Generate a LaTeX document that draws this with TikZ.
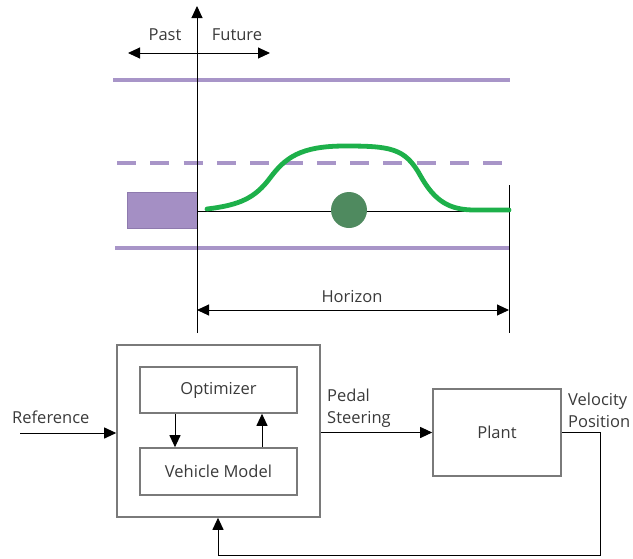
\documentclass[tikz,border=0pt]{standalone}
\usepackage{fontspec}
\setmainfont{Open Sans}
\usetikzlibrary{arrows.meta,calc}
\definecolor{lane}{HTML}{A895C8}
\definecolor{lanefill}{HTML}{A48FC4}
\definecolor{lanedge}{HTML}{8E7AAE}
\definecolor{pathgreen}{HTML}{1DB04A}
\definecolor{obstacle}{HTML}{4F8A5F}
\definecolor{boxgrey}{HTML}{7A7A7A}
\definecolor{txt}{HTML}{3A3A3A}
\begin{document}
\begin{tikzpicture}[x=1pt,y=-1pt,
  lbl/.style={text=txt,font=\fontsize{16.5}{22}\selectfont,inner sep=0pt},
  block/.style={draw=boxgrey,line width=1.6pt,fill=white,inner sep=0pt,text=txt,
                font=\fontsize{16.5}{22}\selectfont},
  conn/.style={line width=1pt,black},
  arr/.style={conn,-{Triangle[length=12pt,width=11pt]}},
  darr/.style={conn,{Triangle[length=12pt,width=11pt]}-{Triangle[length=12pt,width=11pt]}},
  laneline/.style={lane,line width=3.5pt},
]
\useasboundingbox (0,0) rectangle (633,558);

% ---------- prediction horizon sketch ----------
\coordinate (axtop) at (197,6);
\coordinate (axbot) at (197,333);
\coordinate (pastend) at (128,53);
\coordinate (futend) at (270,53);
\coordinate (horR) at (509,185);
\coordinate (horRbot) at (509,333);
\coordinate (horA) at (197,310);
\coordinate (horB) at (509,310);

% lane borders
\draw[laneline] (113,80) -- (510,80);
\draw[laneline] (115,248) -- (510,248);
\draw[laneline,dash pattern=on 19pt off 14.3pt] (117,163) -- (510,163);

% ego vehicle
\node[draw=lanedge,fill=lanefill,line width=0.6pt,minimum width=70pt,minimum height=36pt,
      inner sep=0pt] (ego) at (162,210) {};

% time axes
\draw[arr] (axbot) -- (axtop);
\draw[darr] (pastend) -- (futend);
\node[lbl] (past) at (165,35) {Past};
\node[lbl] (future) at (237,35) {Future};

% reference line and horizon end
\draw[conn] (197,211) -- (509,211);
\draw[conn] (horR) -- (horRbot);

% obstacle
\node[circle,fill=obstacle,minimum size=36pt,inner sep=0pt] (obs) at (349,210) {};

% planned trajectory
\draw[pathgreen,line width=4.8pt,line cap=round]
  (207,209) .. controls (240,205) and (255,198) .. (270,178)
            .. controls (285,158) and (300,146) .. (345,146)
            .. controls (390,146) and (405,148) .. (420,175)
            .. controls (435,202) and (450,210) .. (475,210)
            -- (509,210);

% horizon span
\draw[darr] (horA) -- (horB);
\node[lbl] (horizon) at (352,297) {Horizon};

% ---------- MPC loop block diagram ----------
\node[block,minimum width=203pt,minimum height=172pt] (ctrl) at (218.5,431) {};
\node[block,minimum width=157pt,minimum height=46pt] (opt) at (218.5,390) {Optimizer};
\node[block,minimum width=157pt,minimum height=47pt] (veh) at (218.5,471.5) {Vehicle Model};
\node[block,minimum width=128pt,minimum height=87pt] (plant) at (497,432.5) {Plant};

\coordinate (downx) at (175,0);
\coordinate (upx) at (262,0);
\draw[arr] (opt.south -| downx) -- (veh.north -| downx);
\draw[arr] (veh.north -| upx) -- (opt.south -| upx);

\coordinate (refin) at (20,433);
\draw[arr] (refin) -- (ctrl.west |- refin);
\node[lbl,anchor=south west] (reflbl) at (12,424) {Reference};

\draw[arr] (ctrl.east |- plant.west) -- (plant.west);
\node[lbl,anchor=west,align=left] (uLbl) at (327,408) {Pedal\\Steering};

\coordinate (outturn) at (600,432.5);
\coordinate (outlow) at (600,555);
\coordinate (fbx) at (218,555);
\draw[arr] (plant.east) -- (outturn) -- (outlow) -- (fbx) -- (ctrl.south -| fbx);
\node[lbl,anchor=west,align=left] (yLbl) at (568,410) {Velocity\\Position};
\end{tikzpicture}
\end{document}
